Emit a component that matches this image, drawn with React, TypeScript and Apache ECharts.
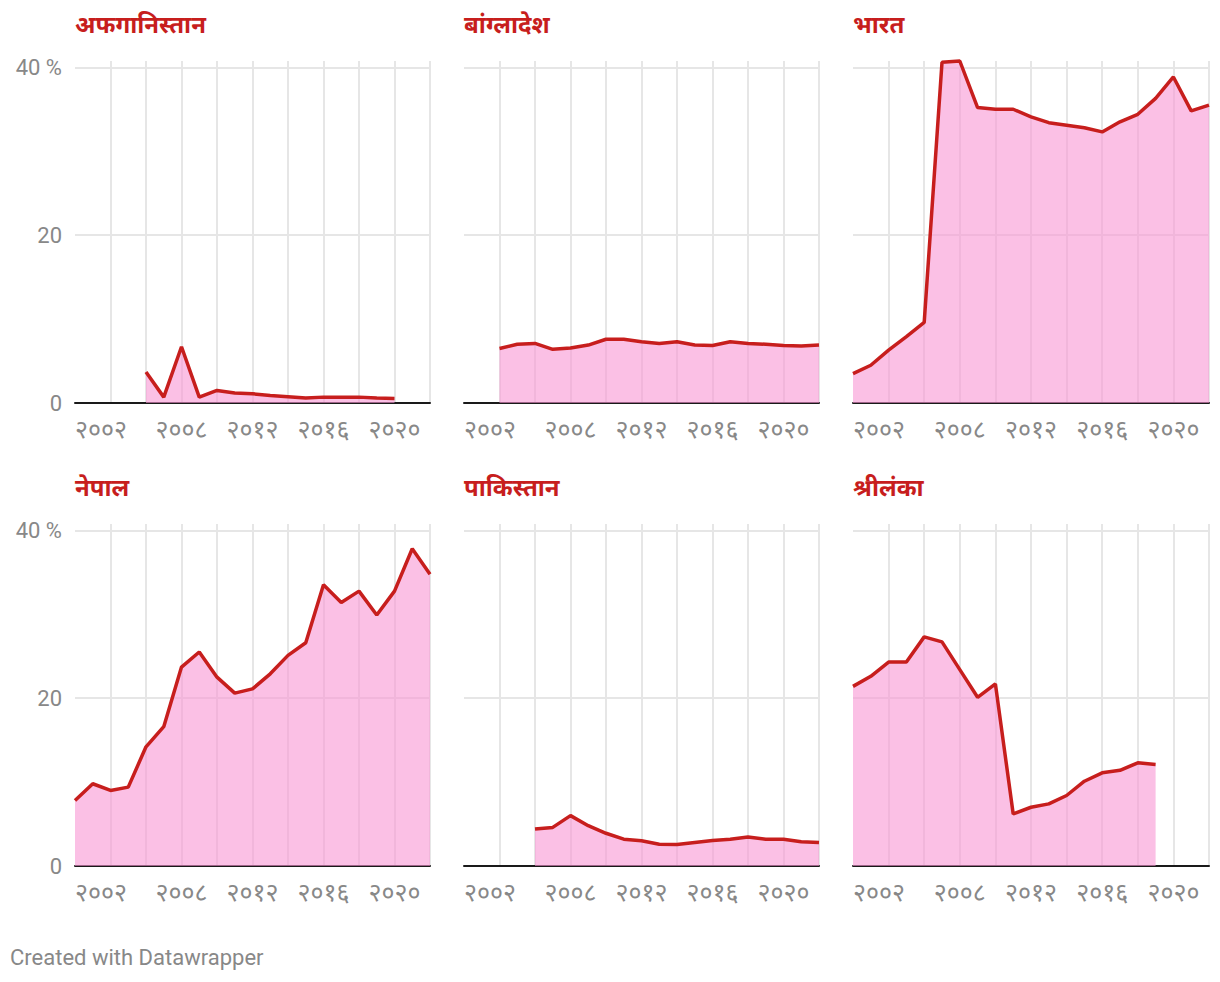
import React, { useEffect, useRef } from "react";
import * as echarts from "echarts";

const years = [2002, 2003, 2004, 2005, 2006, 2007, 2008, 2009, 2010, 2011, 2012, 2013, 2014, 2015, 2016, 2017, 2018, 2019, 2020, 2021, 2022];

const countryNames = ["अफगानिस्तान", "बांग्लादेश", "भारत", "नेपाल", "पाकिस्तान", "श्रीलंका"];

const afghanistan = [null, null, null, null, 3.7, 0.7, 6.7, 0.7, 1.5, 1.2, 1.1, 0.9, 0.75, 0.6, 0.7, 0.7, 0.7, 0.6, 0.55, null, null];
const bangladesh = [null, null, 6.5, 7.0, 7.1, 6.4, 6.55, 6.9, 7.6, 7.6, 7.3, 7.1, 7.3, 6.9, 6.85, 7.3, 7.1, 7.0, 6.85, 6.8, 6.9];
const india = [3.5, 4.5, 6.3, 7.9, 9.6, 40.6, 40.75, 35.2, 35.0, 35.0, 34.1, 33.4, 33.1, 32.8, 32.3, 33.5, 34.4, 36.3, 38.85, 34.8, 35.5];
const nepal = [7.8, 9.8, 9.0, 9.4, 14.2, 16.6, 23.7, 25.5, 22.5, 20.6, 21.1, 22.9, 25.1, 26.6, 33.5, 31.4, 32.75, 29.9, 32.75, 37.8, 34.75];
const pakistan = [null, null, null, null, 4.4, 4.6, 6.0, 4.8, 3.9, 3.2, 3.0, 2.6, 2.55, 2.8, 3.05, 3.2, 3.45, 3.2, 3.2, 2.9, 2.8];
const sriLanka = [21.4, 22.6, 24.3, 24.3, 27.3, 26.7, 23.4, 20.1, 21.7, 6.2, 7.0, 7.4, 8.4, 10.1, 11.1, 11.4, 12.3, 12.1, null, null, null];

const seriesValues = [afghanistan, bangladesh, india, nepal, pakistan, sriLanka];

const xLabelYears = [2002, 2008, 2012, 2016, 2020];
const xGridYears = [2004, 2006, 2008, 2010, 2012, 2014, 2016, 2018, 2020, 2022];
const yTicks = [0, 20, 40];
const yMax = 40.75;

const devanagariDigits = ["०", "१", "२", "३", "४", "५", "६", "७", "८", "९"];
const toDevanagari = (v: number) => String(v).replace(/[0-9]/g, (d) => devanagariDigits[Number(d)]);

const FONT = "Roboto, 'Noto Sans', sans-serif";
const RED = "#c71e1d";

const colLefts = [75, 464, 853];
const colWidths = [355, 355, 356];
const rowTops = [61, 524];
const plotHeight = 342;

export default function App() {
  const ref = useRef<HTMLDivElement>(null);

  useEffect(() => {
    if (!ref.current) return;
    const chart = echarts.init(ref.current, undefined, { renderer: "svg" });

    const grids: any[] = [];
    const xAxes: any[] = [];
    const yAxes: any[] = [];
    const series: any[] = [];
    const titles: any[] = [];

    seriesValues.forEach((vals, i) => {
      const col = i % 3;
      const row = Math.floor(i / 3);
      grids.push({ left: colLefts[col], top: rowTops[row], width: colWidths[col], height: plotHeight, containLabel: false });
      xAxes.push({
        type: "value",
        gridIndex: i,
        min: 2002,
        max: 2022,
        axisLine: { show: true, onZero: true, lineStyle: { color: "#1a1a1a", width: 2 } },
        axisTick: { show: false, customValues: xGridYears },
        splitLine: { show: true, lineStyle: { color: "#e6e6e6", width: 2 } },
        axisLabel: {
          customValues: xLabelYears,
          formatter: (v: number) => toDevanagari(v),
          alignMinLabel: "left",
          fontSize: 25,
          color: "#888",
          fontFamily: FONT,
          margin: 14,
        },
      });
      yAxes.push({
        type: "value",
        gridIndex: i,
        min: 0,
        max: yMax,
        axisLine: { show: false },
        axisTick: { show: false, customValues: yTicks },
        splitLine: { show: true, lineStyle: { color: "#e6e6e6", width: 2 } },
        axisLabel: {
          show: col === 0,
          customValues: yTicks,
          formatter: (v: number) => (v === 40 ? "40 %" : String(v)),
          fontSize: 22,
          color: "#888",
          fontFamily: FONT,
          margin: 13,
        },
      });
      series.push({
        type: "line",
        xAxisIndex: i,
        yAxisIndex: i,
        data: years.map((y, k) => [y, vals[k]]).filter((p) => p[1] !== null),
        symbol: "none",
        clip: false,
        lineStyle: { color: RED, width: 3.5 },
        areaStyle: { color: "rgba(248,150,212,0.6)", opacity: 1, origin: "start" },
        z: 3,
      });
      titles.push({
        text: countryNames[i],
        left: colLefts[col] - 5,
        top: rowTops[row] - 53,
        textStyle: { color: RED, fontSize: 24, fontWeight: "bold", fontFamily: FONT },
      });
    });

    titles.push({
      text: "Created with Datawrapper",
      left: 5,
      top: 941,
      textStyle: { color: "#888", fontSize: 22, fontWeight: "normal", fontFamily: FONT },
    });

    chart.setOption({
      animation: false,
      backgroundColor: "#fff",
      title: titles,
      grid: grids,
      xAxis: xAxes,
      yAxis: yAxes,
      series,
    });

    return () => chart.dispose();
  }, []);

  return <div ref={ref} style={{ position: "absolute", left: 0, top: 0, width: 1220, height: 982 }} />;
}
